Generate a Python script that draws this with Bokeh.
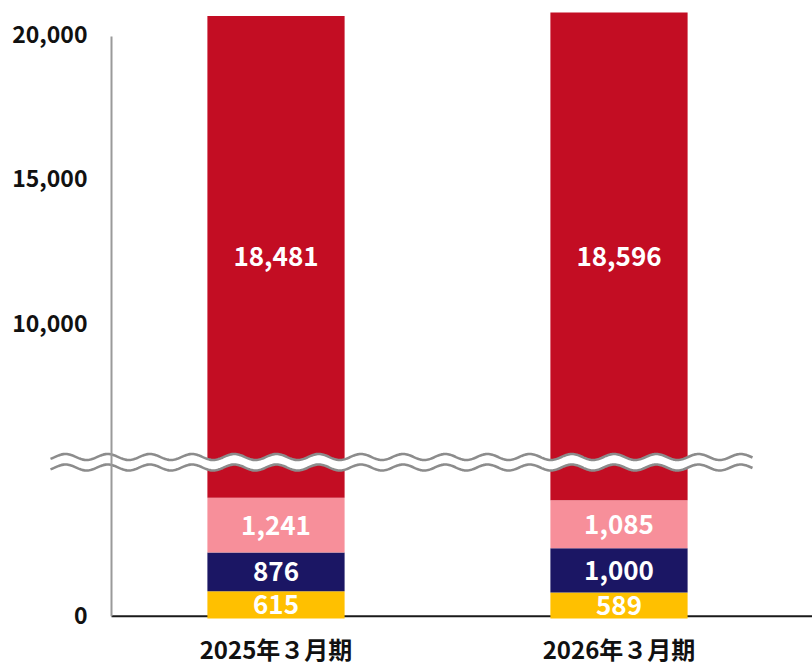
import numpy as np
from bokeh.plotting import figure
from bokeh.models import Range1d, ColumnDataSource
from bokeh.core.properties import value
from bokeh.embed import file_html
from bokeh.resources import INLINE

# ---------------- data ----------------
categories = ["2025年３月期", "2026年３月期"]
yellow_vals = [615, 589]
navy_vals = [876, 1000]
pink_vals = [1241, 1085]
red_vals = [18481, 18596]
tick_values = [0, 10000, 15000, 20000]
tick_labels = ["0", "10,000", "15,000", "20,000"]

# ---------------- colours / styles ----------------
C_YELLOW = "#FFC000"
C_NAVY = "#1B1664"
C_PINK = "#F78F9A"
C_RED = "#C30D23"
FONT = "Noto Sans CJK JP"

# ---------------- broken-axis scale (screen px above the baseline) ----------------
K_LOW = 0.0442      # px per unit, part below the break
K_HIGH = 0.02885    # px per unit, part above the break
HIGH_REF_V = 10000
HIGH_REF_Y = 295.5
RED_SHIFT = 62.4
BREAK_V = 5000


def low_y(v):
    return v * K_LOW


def high_y(v):
    return HIGH_REF_Y + (v - HIGH_REF_V) * K_HIGH


def tick_y(v):
    return low_y(v) + 3 if v < BREAK_V else high_y(v)


PX = 343.0  # px per category step
W, H = 812, 669
x_start = -275.5 / PX
y_start = -51

p = figure(width=W, height=H, output_backend="svg", toolbar_location=None,
           x_range=Range1d(x_start, x_start + W / PX),
           y_range=Range1d(y_start, y_start + H),
           min_border=0, outline_line_color=None)
p.axis.visible = False
p.grid.visible = False
p.background_fill_color = "white"
p.border_fill_color = "white"

xs = list(range(len(categories)))

# stacked segments
y0 = [0.0] * len(xs)
y1 = [low_y(a) for a in yellow_vals]
y2 = [low_y(a + b) for a, b in zip(yellow_vals, navy_vals)]
y3 = [low_y(a + b + c) for a, b, c in zip(yellow_vals, navy_vals, pink_vals)]
y4 = [high_y(r) + RED_SHIFT for r in red_vals]

# baseline (x axis line)
axis_x = (111 - 275.5) / PX
p.segment(x0=[axis_x], y0=[2.2], x1=[x_start + W / PX], y1=[2.2],
          line_color="#1a1a1a", line_width=2)

BAR_W = 0.4
src = ColumnDataSource(dict(x=xs, y0=y0, y1=y1, y2=y2, y3=y3, y4=y4))
p.vbar(x="x", width=BAR_W, bottom="y0", top="y1", source=src, fill_color=C_YELLOW, line_color=None)
p.vbar(x="x", width=BAR_W, bottom="y1", top="y2", source=src, fill_color=C_NAVY, line_color=None)
p.vbar(x="x", width=BAR_W, bottom="y2", top="y3", source=src, fill_color=C_PINK, line_color=None)
p.vbar(x="x", width=BAR_W, bottom="y3", top="y4", source=src, fill_color=C_RED, line_color=None)

# wavy break marker
wx0, wx1 = (50 - 275.5) / PX, (752 - 275.5) / PX
wx = np.linspace(wx0, wx1, 600)
wpx = wx * PX + 275.5
phase = np.cos(2 * np.pi * (wpx - 65) / 42.2)
top_line = 161.5 + 3.0 * phase
bot_line = 151.0 + 3.0 * phase
p.patch(np.concatenate([wx, wx[::-1]]), np.concatenate([top_line, bot_line[::-1]]),
        fill_color="white", line_color=None)
p.line(wx, top_line, line_color="#8c8c8c", line_width=2.6)
p.line(wx, bot_line, line_color="#8c8c8c", line_width=2.6)

# y axis line
p.segment(x0=[axis_x], y0=[2.2], x1=[axis_x], y1=[high_y(20000) - 2], line_color="#9a9a9a", line_width=2)

# segment labels
def mid(a, b):
    return [(u + v) / 2 for u, v in zip(a, b)]

lab_x, lab_y, lab_t = [], [], []
for vals, lo, hi in [(yellow_vals, y0, y1), (navy_vals, y1, y2), (pink_vals, y2, y3), (red_vals, y3, y4)]:
    lab_x += xs
    lab_y += mid(lo, hi)
    lab_t += [f"{v:,}" for v in vals]
p.text(x=lab_x, y=lab_y, text=lab_t, text_color="white", text_align="center",
       text_baseline="middle", text_font=value(FONT), text_font_size="26px", text_font_style="bold")

# y tick labels
tick_x = (87 - 275.5) / PX
p.text(x=[tick_x] * len(tick_values), y=[tick_y(v) for v in tick_values], text=tick_labels,
       text_color="#111111", text_align="right", text_baseline="middle",
       text_font=value(FONT), text_font_size="23px", text_font_style="bold")

# category labels
p.text(x=xs, y=[-30] * len(xs), text=categories, text_color="#111111", text_align="center",
       text_baseline="middle", text_font=value(FONT), text_font_size="24px", text_font_style="bold")

open("out.html", "w").write(file_html(p, INLINE))
